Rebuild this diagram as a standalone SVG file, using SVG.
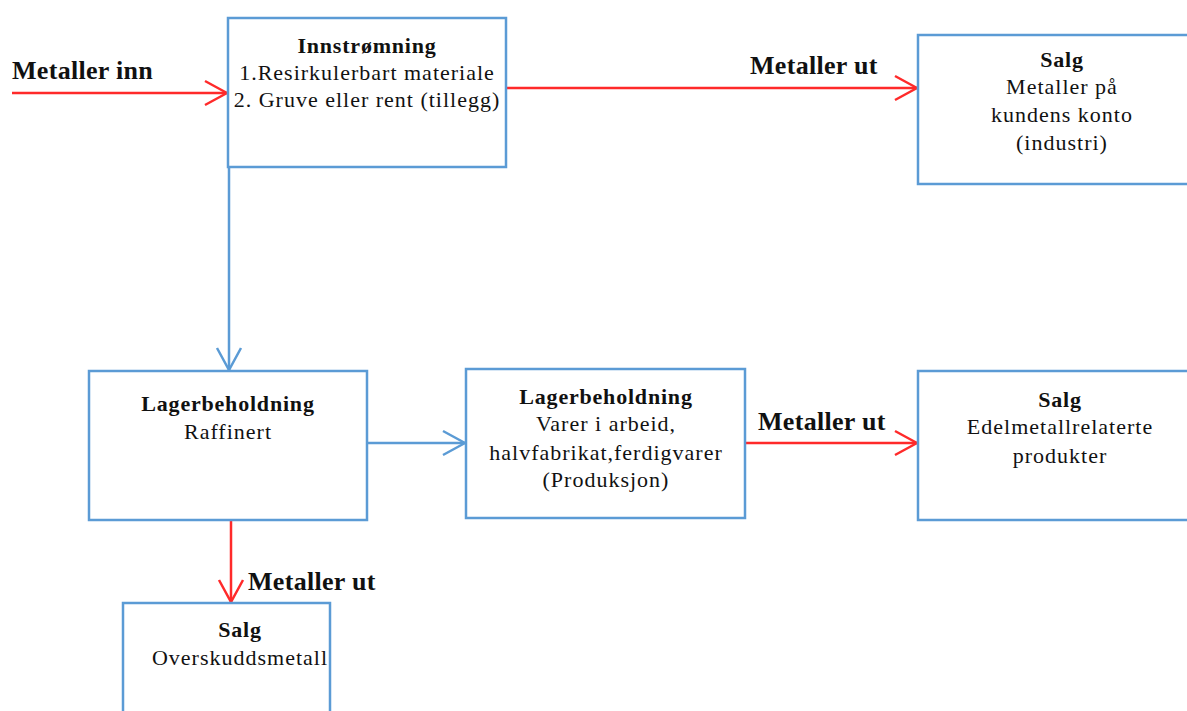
<svg xmlns="http://www.w3.org/2000/svg" width="1187" height="711" viewBox="0 0 1187 711">
<style>
.box{fill:#fff;stroke:#5b9bd5;stroke-width:2.5}
.t{font-family:"Liberation Serif",serif;font-size:22px;letter-spacing:1px;fill:#111;text-anchor:middle}
.b{font-weight:bold;letter-spacing:0.8px}
.lbl{font-family:"Liberation Serif",serif;font-size:26px;letter-spacing:0.3px;font-weight:bold;fill:#111}
.red{stroke:#ff2a2a;stroke-width:2.5;fill:none}
.blue{stroke:#5b9bd5;stroke-width:2.5;fill:none}
</style>
<defs>
<marker id="ar" markerUnits="userSpaceOnUse" viewBox="-24 -14 26 28" markerWidth="26" markerHeight="28" refX="0" refY="0" orient="auto">
<path d="M-22,-12 L0,0 L-22,12" fill="none" stroke="#ff2a2a" stroke-width="2.5"/>
</marker>
<marker id="ab" markerUnits="userSpaceOnUse" viewBox="-24 -14 26 28" markerWidth="26" markerHeight="28" refX="0" refY="0" orient="auto">
<path d="M-22,-12 L0,0 L-22,12" fill="none" stroke="#5b9bd5" stroke-width="2.5"/>
</marker>
</defs>
<rect width="1187" height="711" fill="#fff"/>
<g id="connectors">
<line class="red" x1="12" y1="93" x2="227" y2="93" marker-end="url(#ar)"/>
<line class="red" x1="507" y1="88" x2="917" y2="88" marker-end="url(#ar)"/>
<line class="blue" x1="229" y1="168" x2="229" y2="370" marker-end="url(#ab)"/>
<line class="blue" x1="368" y1="443" x2="465" y2="443" marker-end="url(#ab)"/>
<line class="red" x1="746" y1="443" x2="917" y2="443" marker-end="url(#ar)"/>
<line class="red" x1="231" y1="521" x2="231" y2="602" marker-end="url(#ar)"/>
<text class="lbl" x="12" y="79">Metaller inn</text>
<text class="lbl" x="750" y="74">Metaller ut</text>
<text class="lbl" x="758" y="430">Metaller ut</text>
<text class="lbl" x="248" y="590">Metaller ut</text>
</g>
<g id="innstromning">
<rect class="box" x="228" y="18" width="278" height="149"/>
<text class="t b" x="367" y="53">Innstrømning</text>
<text class="t" x="367" y="80">1.Resirkulerbart materiale</text>
<text class="t" x="367" y="107">2. Gruve eller rent (tillegg)</text>
</g>
<g id="salg-industri">
<rect class="box" x="918" y="35" width="285" height="149"/>
<text class="t b" x="1062" y="67">Salg</text>
<text class="t" x="1062" y="94">Metaller på</text>
<text class="t" x="1062" y="122">kundens konto</text>
<text class="t" x="1062" y="150">(industri)</text>
</g>
<g id="lager-raffinert">
<rect class="box" x="89" y="371" width="278" height="149"/>
<text class="t b" x="228" y="411">Lagerbeholdning</text>
<text class="t" x="228" y="439">Raffinert</text>
</g>
<g id="lager-produksjon">
<rect class="box" x="466" y="369" width="279" height="149"/>
<text class="t b" x="606" y="404">Lagerbeholdning</text>
<text class="t" x="606" y="431">Varer i arbeid,</text>
<text class="t" x="606" y="460">halvfabrikat,ferdigvarer</text>
<text class="t" x="606" y="487">(Produksjon)</text>
</g>
<g id="salg-edelmetall">
<rect class="box" x="918" y="371" width="285" height="149"/>
<text class="t b" x="1060" y="407">Salg</text>
<text class="t" x="1060" y="434">Edelmetallrelaterte</text>
<text class="t" x="1060" y="463">produkter</text>
</g>
<g id="salg-overskudd">
<rect class="box" x="123" y="603" width="207" height="130"/>
<text class="t b" x="240" y="637">Salg</text>
<text class="t" x="240" y="665">Overskuddsmetall</text>
</g>
</svg>
